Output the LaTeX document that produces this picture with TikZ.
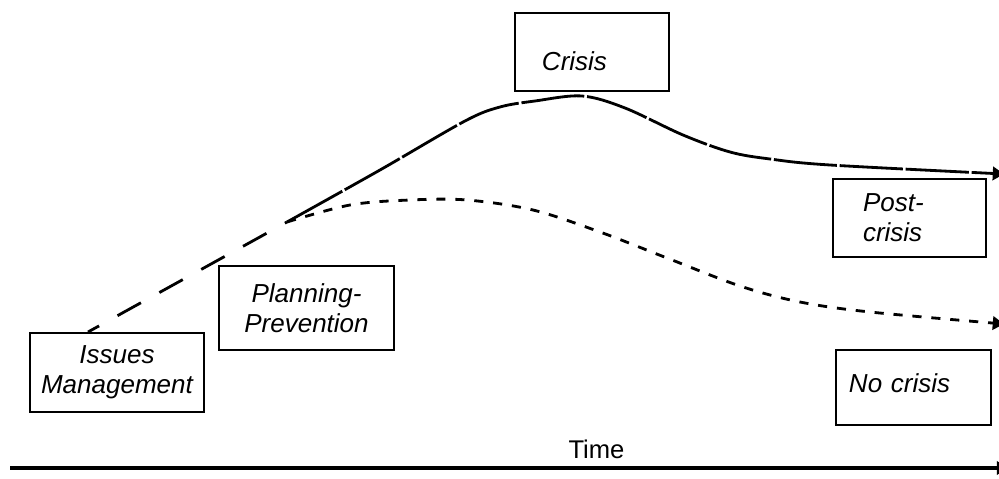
\documentclass[tikz,border=0pt]{standalone}
\usepackage{fontspec}
\setmainfont{Liberation Sans}
\usetikzlibrary{arrows.meta}

\begin{document}
\begin{tikzpicture}[
    x=0.025cm, y=-0.025cm,
    every node/.style={font=\fontsize{18.5}{21.3}\selectfont\itshape},
    box/.style={rectangle, draw, line width=1.6pt},
    tip/.style={-{Triangle[length=8pt,width=9.5pt]}},
    phase/.style={line width=2pt, dash pattern=on 19pt off 15pt, dash phase=10pt},
    crisisline/.style={line width=2pt, dash pattern=on 45pt off 2pt, tip},
    nocrisisline/.style={line width=2pt, dash pattern=on 6.5pt off 7pt, tip},
    axis/.style={line width=2.2pt, tip}
]
\useasboundingbox (0,0) rectangle (999,479);
\clip (0,0) rectangle (999,479);

% Phases
\node[box, minimum width=4.35cm, minimum height=1.975cm, align=center] (issues) at (117,372.5) {Issues\\Management};
\node[box, minimum width=4.375cm, minimum height=2.1cm, align=center] (planning) at (306.5,308) {Planning-\\Prevention};
\node[box, minimum width=3.85cm, minimum height=1.95cm, inner xsep=0.675cm, text width=2.5cm, align=left,
      text height=0.9cm, text depth=0pt] (crisis) at (592,52) {Crisis};
\node[box, minimum width=3.825cm, minimum height=1.95cm, inner xsep=0.75cm, text width=2.325cm, align=left] (post) at (909.5,218) {Post-\\crisis};
\node[box, minimum width=3.875cm, minimum height=1.875cm, inner xsep=0.325cm, text width=3.225cm, align=left,
      text height=0.48cm, text depth=0.25cm] (nocrisis) at (913.5,387.5) {No crisis};

% Curve points
\coordinate (start) at (88,332);
\coordinate (fork) at (287,222);
\coordinate (peak) at (582,96);
\coordinate (endcrisis) at (1004,174);
\coordinate (endnone) at (1004,324);

% Lines
\draw[phase] (start) -- (fork);
\draw[crisisline] plot[smooth, tension=0.55] coordinates {(fork) (380,170) (465,121) (500,107) (535,101) (peak) (625,108) (683,135) (730,152) (770,159) (830,165) (endcrisis)};
\draw[nocrisisline] plot[smooth, tension=0.55] coordinates {(fork) (350,205) (410,200) (467,200) (533,210) (600,232) (667,258) (740,286) (800,302) (870,312) (endnone)};

% Time axis
\coordinate (t0) at (10,468);
\coordinate (t1) at (1008,468);
\draw[axis] (t0) -- (t1);
\node[anchor=base, font=\fontsize{18.2}{21}\selectfont\upshape] (time) at (596.5,458) {Time};

\end{tikzpicture}
\end{document}
